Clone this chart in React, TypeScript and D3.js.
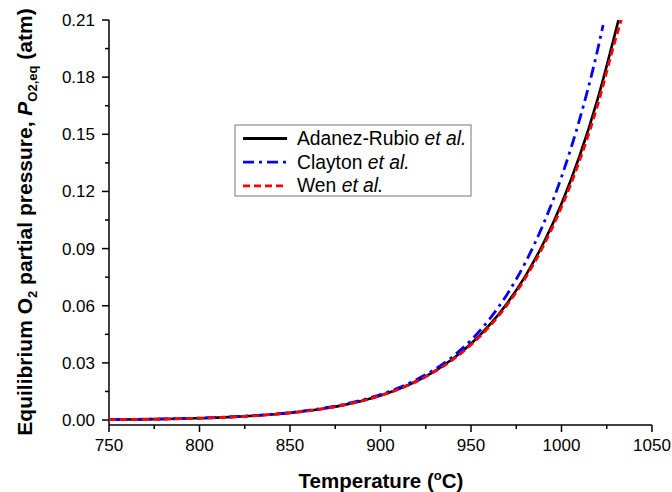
import React from "react";
import * as d3 from "d3";

const temps = [750, 760, 770, 780, 790, 800, 810, 820, 830, 840, 850, 860, 870, 880, 890, 900, 910, 920, 930, 940, 950, 960, 970, 980, 990, 1000, 1010, 1020, 1030];

const adanezRubio = [0.00022, 0.0003, 0.00041, 0.00055, 0.00073, 0.00098, 0.00129, 0.0017, 0.00222, 0.0029, 0.00376, 0.00485, 0.00623, 0.00797, 0.01016, 0.01289, 0.01629, 0.02051, 0.02573, 0.03214, 0.04001, 0.04964, 0.06135, 0.07559, 0.09282, 0.1136, 0.1386, 0.1686, 0.2044];
const adanezEnd = { t: 1031.5, v: 0.21 };

const claytonTemps = [750, 760, 770, 780, 790, 800, 810, 820, 830, 840, 850, 860, 870, 880, 890, 900, 910, 920, 930, 940, 950, 960, 970, 980, 990, 1000, 1010, 1020, 1023];
const clayton = [0.00024, 0.00032, 0.00043, 0.00058, 0.00077, 0.00102, 0.00135, 0.00178, 0.00232, 0.00303, 0.00392, 0.00505, 0.00648, 0.00828, 0.01055, 0.0134, 0.0169, 0.0213, 0.0266, 0.0334, 0.0419, 0.0527, 0.0661, 0.0826, 0.1029, 0.1276, 0.1578, 0.1945, 0.2074];

const wenTemps = [750, 760, 770, 780, 790, 800, 810, 820, 830, 840, 850, 860, 870, 880, 890, 900, 910, 920, 930, 940, 950, 960, 970, 980, 990, 1000, 1010, 1020, 1030, 1033];
const wen = [0.00022, 0.0003, 0.00041, 0.00055, 0.00073, 0.00098, 0.00129, 0.0017, 0.00222, 0.0029, 0.00375, 0.00483, 0.0062, 0.00792, 0.01008, 0.01278, 0.01614, 0.0203, 0.02545, 0.03176, 0.0395, 0.04895, 0.0605, 0.0745, 0.0914, 0.1118, 0.1362, 0.1655, 0.2005, 0.21];

const xTicks = [750, 800, 850, 900, 950, 1000, 1050];
const xMinor = [775, 825, 875, 925, 975, 1025];
const yTicks = [0, 0.03, 0.06, 0.09, 0.12, 0.15, 0.18, 0.21];
const yMinor = [0.015, 0.045, 0.075, 0.105, 0.135, 0.165, 0.195];

const legendItems = [
  { name: "Adanez-Rubio ", color: "#000000", dash: "none" },
  { name: "Clayton ", color: "#0000ff", dash: "11 5 3 5" },
  { name: "Wen ", color: "#ff0000", dash: "7 4" },
];

const FONT = "'Liberation Sans', Arial, sans-serif";

export default function App() {
  const W = 672, H = 492;
  const x = d3.scaleLinear().domain([750, 1050]).range([109, 652]);
  const y = d3.scaleLinear().domain([-0.0026, 0.21]).range([425, 20]);
  const line = d3.line<[number, number]>().x(d => x(d[0])).y(d => y(d[1])).curve(d3.curveMonotoneX);

  const blackPts: [number, number][] = temps.map((t, i) => [t, adanezRubio[i]] as [number, number]).concat([[adanezEnd.t, adanezEnd.v]]);
  const bluePts: [number, number][] = claytonTemps.map((t, i) => [t, clayton[i]]);
  const redPts: [number, number][] = wenTemps.map((t, i) => [t, wen[i]]);

  const lx = 235, ly = 125;
  return (
    <svg width={W} height={H} style={{ position: "absolute", left: 0, top: 0, background: "#fff" }} fontFamily={FONT}>
      <rect x={0} y={0} width={W} height={H} fill="#fff" />
      {/* axes */}
      <line x1={x(750)} x2={x(1050)} y1={425} y2={425} stroke="#000" strokeWidth={1.5} />
      <line x1={109} x2={109} y1={20} y2={425} stroke="#000" strokeWidth={1.5} />
      {xTicks.map(t => (
        <g key={"xt" + t}>
          <line x1={x(t)} x2={x(t)} y1={425} y2={432} stroke="#000" strokeWidth={1.5} />
          <text x={x(t)} y={451} textAnchor="middle" fontSize={17}>{t}</text>
        </g>
      ))}
      {xMinor.map(t => (
        <line key={"xm" + t} x1={x(t)} x2={x(t)} y1={425} y2={429} stroke="#000" strokeWidth={1.5} />
      ))}
      {yTicks.map(v => (
        <g key={"yt" + v}>
          <line x1={102} x2={109} y1={y(v)} y2={y(v)} stroke="#000" strokeWidth={1.5} />
          <text x={95} y={y(v) + 6} textAnchor="end" fontSize={17}>{v.toFixed(2)}</text>
        </g>
      ))}
      {yMinor.map(v => (
        <line key={"ym" + v} x1={105} x2={109} y1={y(v)} y2={y(v)} stroke="#000" strokeWidth={1.5} />
      ))}
      {/* axis titles */}
      <text x={381} y={488} textAnchor="middle" fontSize={20.5} fontWeight="bold">
        Temperature (<tspan fontSize={13} dy={-8}>o</tspan><tspan dy={8}>C)</tspan>
      </text>
      <text transform="translate(32,222) rotate(-90)" textAnchor="middle" fontSize={21} fontWeight="bold">
        Equilibrium O<tspan fontSize={13} dy={5}>2</tspan><tspan dy={-5}> partial pressure, </tspan>
        <tspan fontStyle="italic">P</tspan><tspan fontSize={13} dy={5}>O2,eq</tspan><tspan dy={-5}> (atm)</tspan>
      </text>
      {/* curves */}
      <path d={line(blackPts) || ""} fill="none" stroke="#000" strokeWidth={2.6} />
      <path d={line(bluePts) || ""} fill="none" stroke="#0000ff" strokeWidth={2.8} strokeDasharray="11 5 3 5" />
      <path d={line(redPts) || ""} fill="none" stroke="#ff0000" strokeWidth={2.8} strokeDasharray="7 4" />
      {/* legend */}
      <rect x={lx} y={ly} width={236} height={71} fill="#fff" stroke="#777" strokeWidth={1} />
      {legendItems.map((it, i) => (
        <g key={it.name}>
          <line x1={lx + 8} x2={lx + 52} y1={ly + 13.5 + i * 23.7} y2={ly + 13.5 + i * 23.7} stroke={it.color} strokeWidth={2.8} strokeDasharray={it.dash} />
          <text x={lx + 62} y={ly + 20} fontSize={19.3} dy={i * 23.7}>
            {it.name}<tspan fontStyle="italic">et al.</tspan>
          </text>
        </g>
      ))}
    </svg>
  );
}
